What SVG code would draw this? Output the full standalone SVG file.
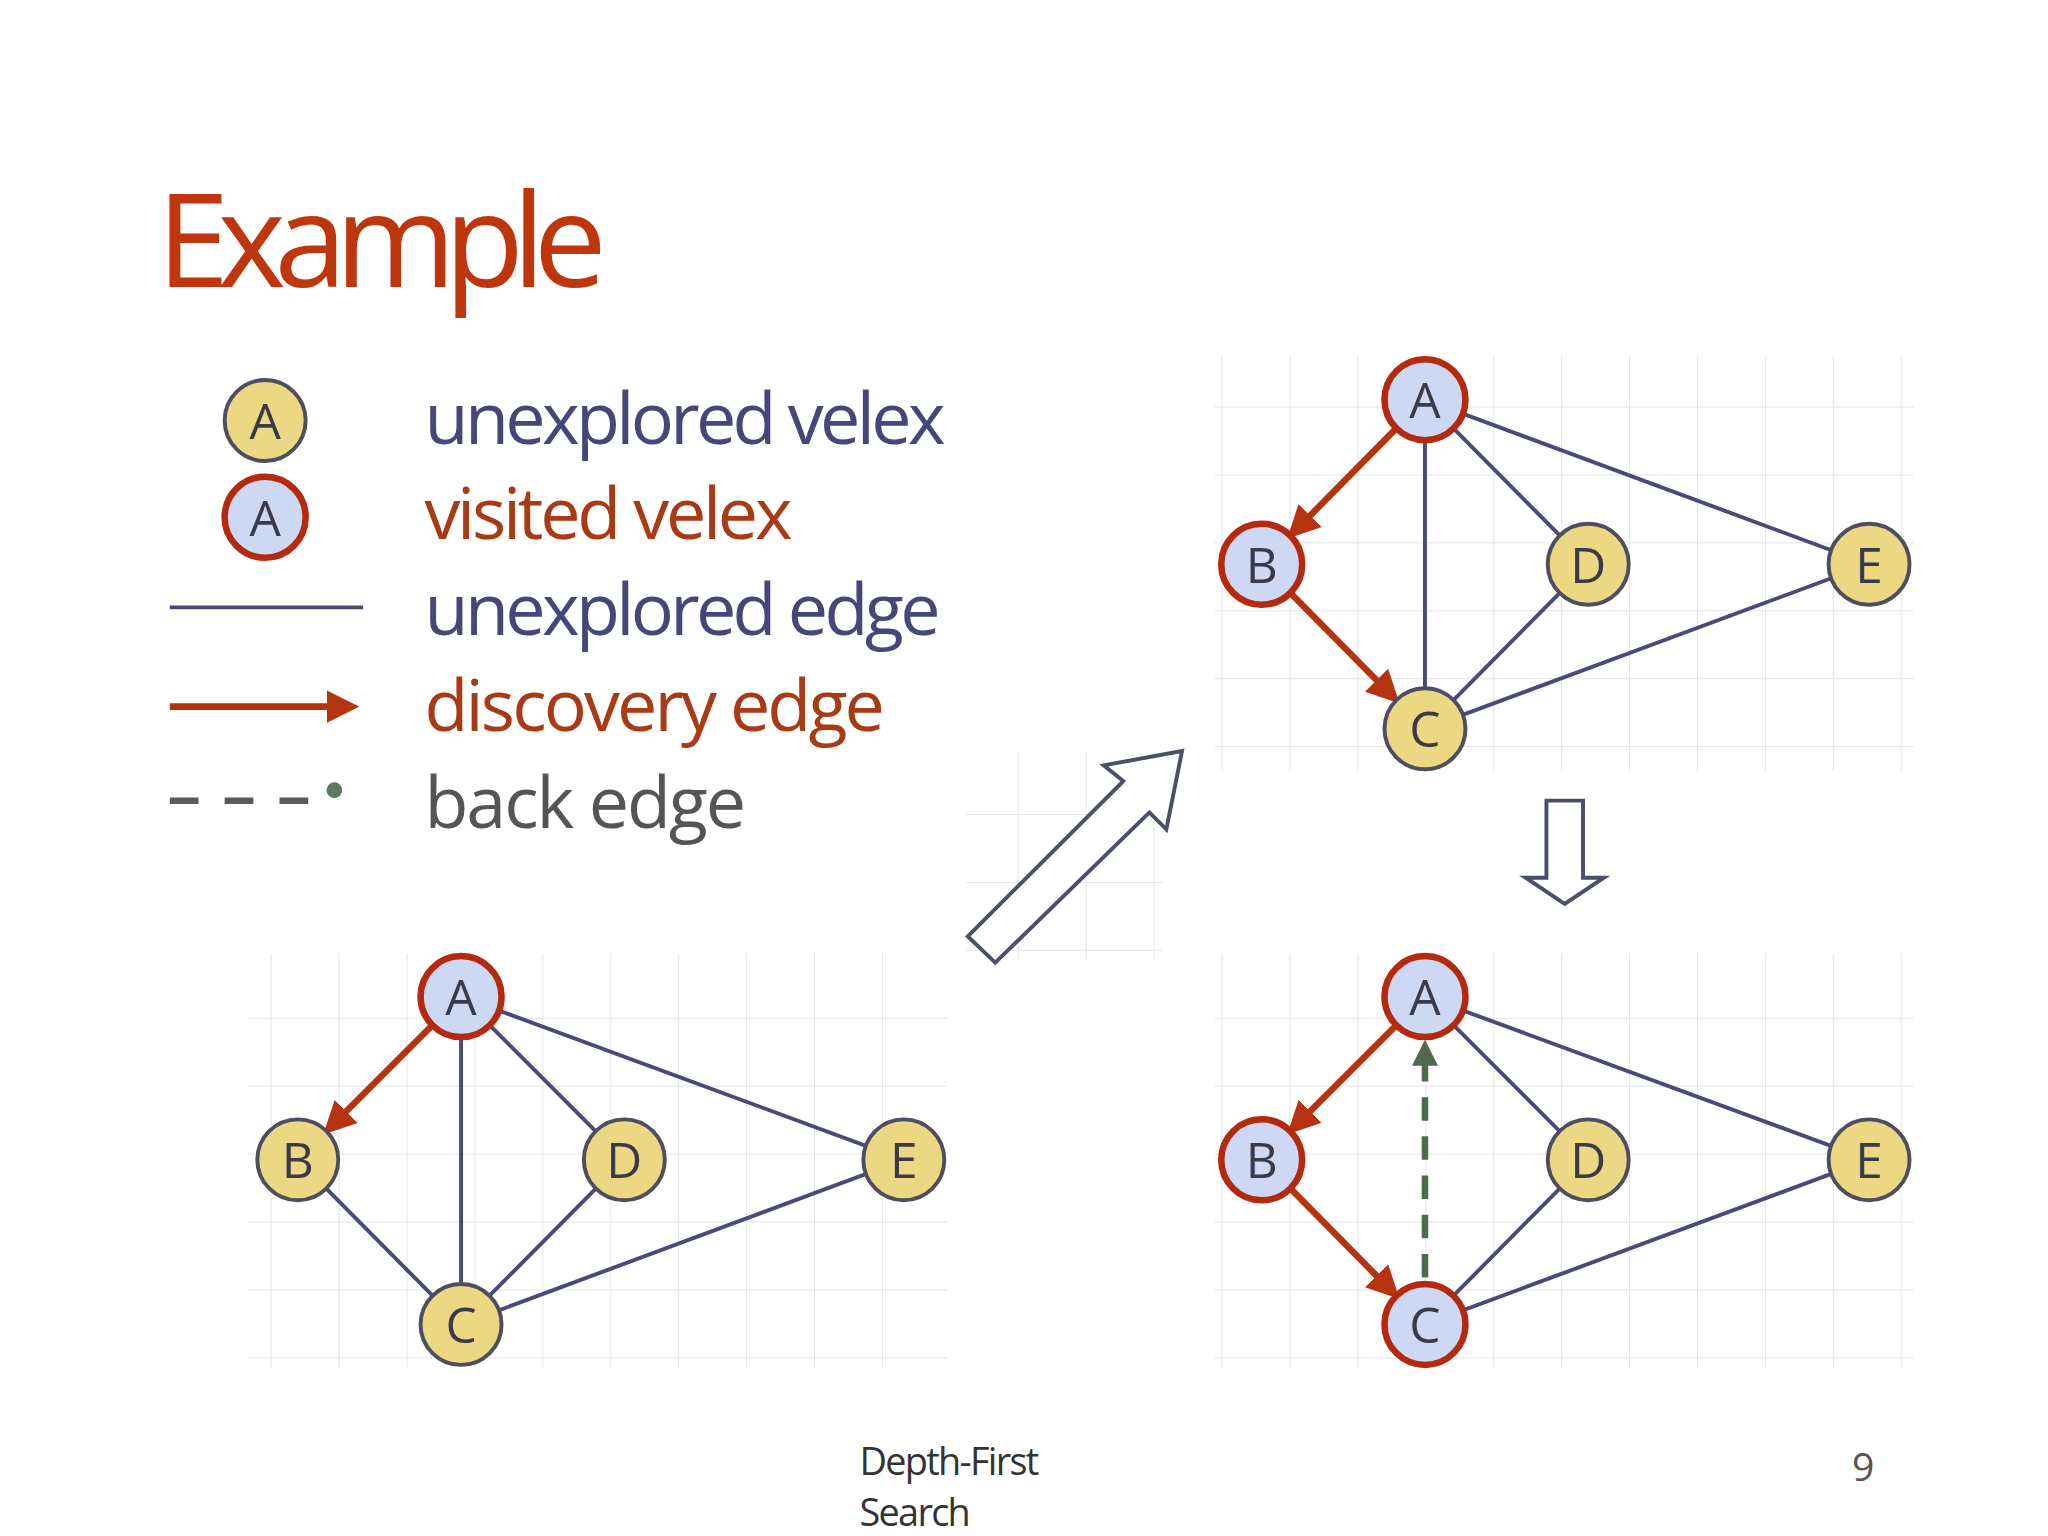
<svg xmlns="http://www.w3.org/2000/svg" width="2048" height="1536" viewBox="0 0 2048 1536">
<style>
.t{font-family:"Open Sans","Noto Sans",sans-serif}
.u{fill:#ecd882;stroke:#4e4e62;stroke-width:3}
.v{fill:#cdd8f4;stroke:#b5290f;stroke-width:5}
.lb{font-family:"Open Sans","Noto Sans",sans-serif;font-size:38px;fill:#3a3a4a;text-anchor:middle}
.ue{stroke:#4a4a78;stroke-width:3;fill:none}
.de{stroke:#b5330f;stroke-width:5;fill:none;marker-end:url(#ah)}
.be{stroke:#4f6a4f;stroke-width:5;fill:none;stroke-dasharray:18 12}
.grid{fill:url(#gp)}
.hol{fill:#fff;stroke:#4a5068;stroke-width:3}
</style>
<defs>
<marker id="ah" viewBox="0 0 10 10" refX="8" refY="5" markerWidth="5" markerHeight="5" orient="auto"><path d="M0,0 L10,5 L0,10 z" fill="#b5330f"/></marker>
<marker id="gh" viewBox="0 0 10 10" refX="8" refY="5" markerWidth="4" markerHeight="4" orient="auto"><path d="M0,0 L10,5 L0,10 z" fill="#4f6a4f"/></marker>
<pattern id="gp" width="52" height="52" patternUnits="userSpaceOnUse"><path d="M52,0 V52 M0,52 H52" stroke="#e4e4ea" stroke-width="1.5" fill="none"/></pattern>
</defs>
<rect width="2048" height="1536" fill="#fff"/>
<g transform="scale(1.30612)">
<text class="t" x="120" y="220" font-size="100" fill="#c0360c" letter-spacing="-9">Example</text>
<g id="legend">
<circle class="u" cx="203" cy="322" r="31"/><text class="lb" x="203" y="336">A</text>
<circle class="v" cx="203" cy="396" r="31"/><text class="lb" x="203" y="410">A</text>
<line x1="130" y1="465" x2="278" y2="465" stroke="#4a4a78" stroke-width="3"/>
<line x1="130" y1="541" x2="270" y2="541" class="de"/>
<line x1="130" y1="613" x2="250" y2="613" stroke="#5a5a5a" stroke-width="5" stroke-dasharray="22 20"/>
<circle cx="256" cy="605" r="6" fill="#5a7a5a"/>
<text class="t" x="325" y="340" font-size="55" fill="#46467a" letter-spacing="-2.8">unexplored velex</text>
<text class="t" x="325" y="413" font-size="55" fill="#a83a14" letter-spacing="-2.5">visited velex</text>
<text class="t" x="325" y="486" font-size="55" fill="#46467a" letter-spacing="-2.8">unexplored edge</text>
<text class="t" x="325" y="560" font-size="55" fill="#a83a14" letter-spacing="-2.2">discovery edge</text>
<text class="t" x="325" y="634" font-size="55" fill="#555" letter-spacing="-1.6">back edge</text>
</g>
<rect class="grid" x="190" y="730" width="535" height="318"/>
<rect class="grid" x="930" y="272" width="535" height="318"/>
<rect class="grid" x="930" y="730" width="535" height="318"/>
<rect class="grid" x="740" y="575" width="150" height="160"/>
<g id="arrows">
<path class="hol" d="M741,717 L860,598 L845,586 L905,575 L893,635 L880,622 L762,737 Z"/>
<path class="hol" d="M1184,613 H1212 V672 H1228 L1198,692 L1168,672 H1184 Z"/>
</g>
<g id="connectors">
<line class="ue" x1="353" y1="763" x2="353" y2="1014"/>
<line class="ue" x1="353" y1="763" x2="478" y2="888"/>
<line class="ue" x1="353" y1="763" x2="692" y2="888"/>
<line class="ue" x1="228" y1="888" x2="353" y2="1014"/>
<line class="ue" x1="478" y1="888" x2="353" y2="1014"/>
<line class="ue" x1="692" y1="888" x2="353" y2="1014"/>
<line class="de" x1="331" y1="785" x2="251" y2="865"/>
<line class="ue" x1="1091" y1="306" x2="1091" y2="558"/>
<line class="ue" x1="1091" y1="306" x2="1216" y2="432"/>
<line class="ue" x1="1091" y1="306" x2="1431" y2="432"/>
<line class="ue" x1="1216" y1="432" x2="1091" y2="558"/>
<line class="ue" x1="1431" y1="432" x2="1091" y2="558"/>
<line class="de" x1="1069" y1="328" x2="989" y2="409"/>
<line class="de" x1="988" y1="454" x2="1068" y2="535"/>
<line class="ue" x1="1091" y1="763" x2="1216" y2="888"/>
<line class="ue" x1="1091" y1="763" x2="1431" y2="888"/>
<line class="ue" x1="1216" y1="888" x2="1091" y2="1014"/>
<line class="ue" x1="1431" y1="888" x2="1091" y2="1014"/>
<line class="de" x1="1069" y1="785" x2="989" y2="865"/>
<line class="de" x1="988" y1="910" x2="1068" y2="991"/>
<line class="be" x1="1091" y1="978" x2="1091" y2="800" marker-end="url(#gh)"/>
</g>
<g id="g1A"><circle class="v" cx="353" cy="763" r="31"/><text class="lb" x="353" y="777">A</text></g>
<g id="g1B"><circle class="u" cx="228" cy="888" r="31"/><text class="lb" x="228" y="902">B</text></g>
<g id="g1D"><circle class="u" cx="478" cy="888" r="31"/><text class="lb" x="478" y="902">D</text></g>
<g id="g1E"><circle class="u" cx="692" cy="888" r="31"/><text class="lb" x="692" y="902">E</text></g>
<g id="g1C"><circle class="u" cx="353" cy="1014" r="31"/><text class="lb" x="353" y="1028">C</text></g>
<g id="g2A"><circle class="v" cx="1091" cy="306" r="31"/><text class="lb" x="1091" y="320">A</text></g>
<g id="g2B"><circle class="v" cx="966" cy="432" r="31"/><text class="lb" x="966" y="446">B</text></g>
<g id="g2D"><circle class="u" cx="1216" cy="432" r="31"/><text class="lb" x="1216" y="446">D</text></g>
<g id="g2E"><circle class="u" cx="1431" cy="432" r="31"/><text class="lb" x="1431" y="446">E</text></g>
<g id="g2C"><circle class="u" cx="1091" cy="558" r="31"/><text class="lb" x="1091" y="572">C</text></g>
<g id="g3A"><circle class="v" cx="1091" cy="763" r="31"/><text class="lb" x="1091" y="777">A</text></g>
<g id="g3B"><circle class="v" cx="966" cy="888" r="31"/><text class="lb" x="966" y="902">B</text></g>
<g id="g3D"><circle class="u" cx="1216" cy="888" r="31"/><text class="lb" x="1216" y="902">D</text></g>
<g id="g3E"><circle class="u" cx="1431" cy="888" r="31"/><text class="lb" x="1431" y="902">E</text></g>
<g id="g3C"><circle class="v" cx="1091" cy="1014" r="31"/><text class="lb" x="1091" y="1028">C</text></g>
<text class="t" x="658" y="1129" font-size="29" fill="#333" letter-spacing="-1.3">Depth-First</text>
<text class="t" x="658" y="1168" font-size="29" fill="#333" letter-spacing="-1.3">Search</text>
<text class="t" x="1418" y="1134" font-size="30" fill="#555">9</text>
</g>
</svg>
